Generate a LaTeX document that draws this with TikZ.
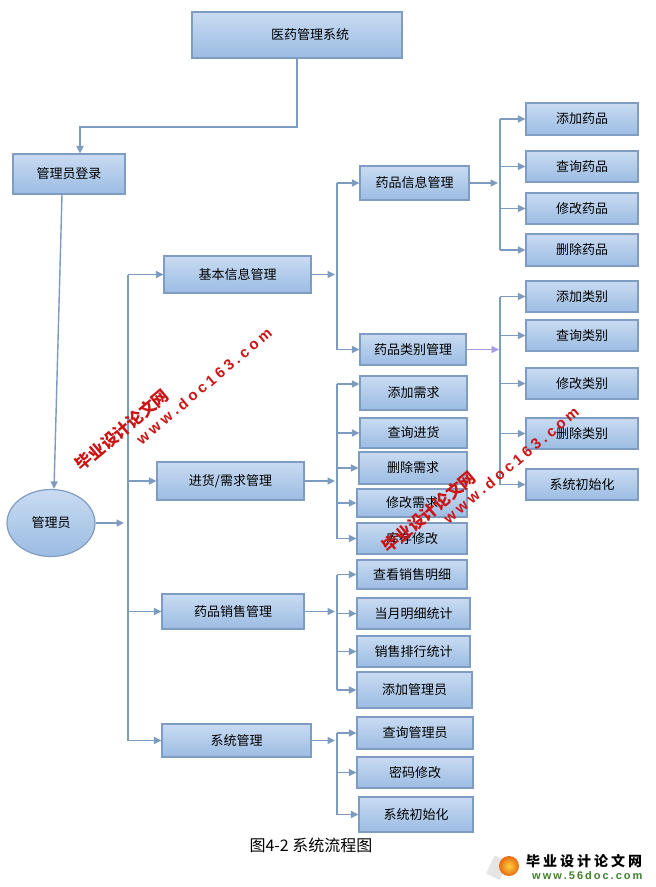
\documentclass[tikz,border=0pt]{standalone}
\usepackage{fontspec}
\newfontfamily\cjk{Noto Sans CJK SC}
\newfontfamily\lsans{Liberation Sans}
\usetikzlibrary{arrows.meta,shapes.geometric}
\definecolor{boxtop}{HTML}{C9DBF2}
\definecolor{boxbot}{HTML}{9BBCE2}
\definecolor{boxline}{HTML}{7F9CC2}
\definecolor{lncol}{HTML}{7D9BBF}
\definecolor{purp}{HTML}{A79DE2}
\definecolor{wmred}{HTML}{CC1414}
\definecolor{wmgreen}{HTML}{3F7F2F}
\definecolor{ballin}{HTML}{FFD040}
\definecolor{ballout}{HTML}{E86A10}
\newcommand\mkbox[6]{\node[box, minimum width={(#4)-(#2)}, minimum height={(#5)-(#3)}] (#1) at ({((#2)+(#4))/2},{((#3)+(#5))/2}) {#6};}
\newcommand\wgapx{\hspace{3.5pt}}
\newcommand\lgapx{\hspace{3pt}}
\newcommand\ugapx{\hspace{2pt}}
\begin{document}
\begin{tikzpicture}[x=1pt,y=-1pt,
  box/.style={draw=boxline, line width=1.2pt, top color=boxtop, bottom color=boxbot, inner sep=0pt, font=\cjk\fontsize{13}{15}\selectfont, text=black},
  ln/.style={draw=lncol, line width=1.4pt},
  arr/.style={ln, -{Triangle[length=7.5pt,width=7pt]}},
  parr/.style={draw=purp, line width=0.9pt, -{Triangle[length=7.5pt,width=7pt]}},
  wmcn/.style={font=\cjk\bfseries\fontsize{16.5}{17}\selectfont, text=wmred, inner sep=0pt},
  wmurl/.style={font=\lsans\bfseries\fontsize{15}{15}\selectfont, text=wmred, inner sep=0pt}]
\useasboundingbox (0,0) rectangle (656,887);
\fill[white] (0,0) rectangle (656,887);

% boxes
\mkbox{sys}{192}{12}{402}{58}{\hspace{26pt}医药管理系统}
\mkbox{login}{13}{154}{125}{194}{管理员登录}
\node[ellipse, box, minimum width=88pt, minimum height=67pt] (adm) at (51,523) {管理员};
\mkbox{jb}{164}{256}{311}{293}{基本信息管理}
\mkbox{jh}{157}{462}{304}{500}{进货/需求管理}
\mkbox{xs}{162}{594}{304}{629}{药品销售管理}
\mkbox{xt}{162}{724}{311}{757}{系统管理}
\mkbox{yp}{360}{166}{469}{200}{药品信息管理}
\mkbox{lb}{360}{334}{466}{365}{药品类别管理}
\mkbox{a1}{526}{103}{638}{135}{添加药品}
\mkbox{a2}{526}{151}{638}{182}{查询药品}
\mkbox{a3}{526}{193}{638}{224}{修改药品}
\mkbox{a4}{526}{234}{638}{266}{删除药品}
\mkbox{b1}{526}{281}{638}{312}{添加类别}
\mkbox{b2}{526}{320}{638}{351}{查询类别}
\mkbox{b3}{526}{368}{638}{399}{修改类别}
\mkbox{b4}{526}{418}{638}{449}{删除类别}
\mkbox{b5}{526}{469}{638}{500}{系统初始化}
\mkbox{c1}{360}{376}{467}{410}{添加需求}
\mkbox{c2}{360}{418}{467}{448}{查询进货}
\mkbox{c3}{359}{452}{467}{484}{删除需求}
\mkbox{c4}{357}{489}{467}{517}{修改需求}
\mkbox{c5}{357}{523}{467}{554}{库存修改}
\mkbox{d1}{357}{560}{467}{589}{查看销售明细}
\mkbox{d2}{357}{598}{470}{629}{当月明细统计}
\mkbox{d3}{357}{636}{470}{667}{销售排行统计}
\mkbox{d4}{357}{672}{472}{708}{添加管理员}
\mkbox{e1}{357}{717}{473}{749}{查询管理员}
\mkbox{e2}{357}{757}{473}{788}{密码修改}
\mkbox{e3}{359}{797}{473}{832}{系统初始化}

% trunk x positions
\coordinate (mt) at (128,0);
\coordinate (t1) at (337,0);
\coordinate (t3) at (500,0);
\coordinate (k1) at (297,127);

% top connectors
\draw[arr] (sys.south) -- (k1) -| ([xshift=11pt]login.north);
\draw[arr] ([xshift=-7pt]login.south) -- ([xshift=3pt]adm.north);
\draw[arr] (adm.east) -- ([xshift=-4pt]adm.east -| mt);

% main trunk
\draw[ln] (jb.west -| mt) -- (xt.west -| mt);
\foreach \n in {jb,jh,xs,xt} \draw[arr] (\n.west -| mt) -- (\n.west);

% basic info
\draw[arr] (jb.east) -- ([xshift=-2pt]jb.east -| t1);
\draw[ln] (yp.west -| t1) -- (lb.west -| t1);
\foreach \n in {yp,lb} \draw[arr] (\n.west -| t1) -- (\n.west);

% drug info
\draw[arr] (yp.east) -- ([xshift=-2pt]yp.east -| t3);
\draw[ln] (a1.west -| t3) -- (a4.west -| t3);
\foreach \n in {a1,a2,a3,a4} \draw[arr] (\n.west -| t3) -- (\n.west);

% drug category
\draw[parr] (lb.east) -- ([xshift=-1pt]lb.east -| t3);
\draw[ln] (b1.west -| t3) -- (b5.west -| t3);
\foreach \n in {b1,b2,b3,b4,b5} \draw[arr] (\n.west -| t3) -- (\n.west);

% purchase
\draw[arr] (jh.east) -- ([xshift=-2pt]jh.east -| t1);
\draw[ln] ([yshift=9pt]c1.west -| t1) -- (c5.west -| t1);
\draw[arr] ([yshift=9pt]c1.west -| t1) -- ([yshift=9pt]c1.west);
\foreach \n in {c2,c3,c4,c5} \draw[arr] (\n.west -| t1) -- (\n.west);

% sales
\draw[arr] (xs.east) -- ([xshift=-2pt]xs.east -| t1);
\draw[ln] (d1.west -| t1) -- (d4.west -| t1);
\foreach \n in {d1,d2,d3,d4} \draw[arr] (\n.west -| t1) -- (\n.west);

% system
\draw[arr] (xt.east) -- ([xshift=-2pt]xt.east -| t1);
\draw[ln] (e1.west -| t1) -- (e3.west -| t1);
\foreach \n in {e1,e2,e3} \draw[arr] (\n.west -| t1) -- (\n.west);

% caption
\node[font=\cjk\fontsize{16}{18}\selectfont, inner sep=0pt] (cap) at (311,845) {图4-2 系统流程图};

% watermarks
\node[wmcn, rotate=40] (w1) at (122,430) {毕业设计论文网};
\node[wmurl, rotate=40] (u1) at (204,386) {w\wgapx w\wgapx w\wgapx .\wgapx d\wgapx o\wgapx c\wgapx 1\wgapx 6\wgapx 3\wgapx .\wgapx c\wgapx o\wgapx m};
\node[wmcn, rotate=40] (w2) at (429,512) {毕业设计论文网};
\node[wmurl, rotate=40] (u2) at (511,465) {w\wgapx w\wgapx w\wgapx .\wgapx d\wgapx o\wgapx c\wgapx 1\wgapx 6\wgapx 3\wgapx .\wgapx c\wgapx o\wgapx m};

% logo
\fill[gray!20, rotate around={-25:(498,867)}] (490,858) rectangle (505,878);
\shade[inner color=ballin, outer color=ballout] (509,866) circle (10pt);
\node[font=\cjk\bfseries\fontsize{14}{14}\selectfont, anchor=west, inner sep=0pt] (lg1) at (526,861) {毕\lgapx 业\lgapx 设\lgapx 计\lgapx 论\lgapx 文\lgapx 网};
\node[font=\lsans\bfseries\fontsize{11}{11}\selectfont, text=wmgreen, anchor=west, inner sep=0pt] (lg2) at (532,876) {w\ugapx w\ugapx w\ugapx .\ugapx 5\ugapx 6\ugapx d\ugapx o\ugapx c\ugapx .\ugapx c\ugapx o\ugapx m};
\end{tikzpicture}
\end{document}
